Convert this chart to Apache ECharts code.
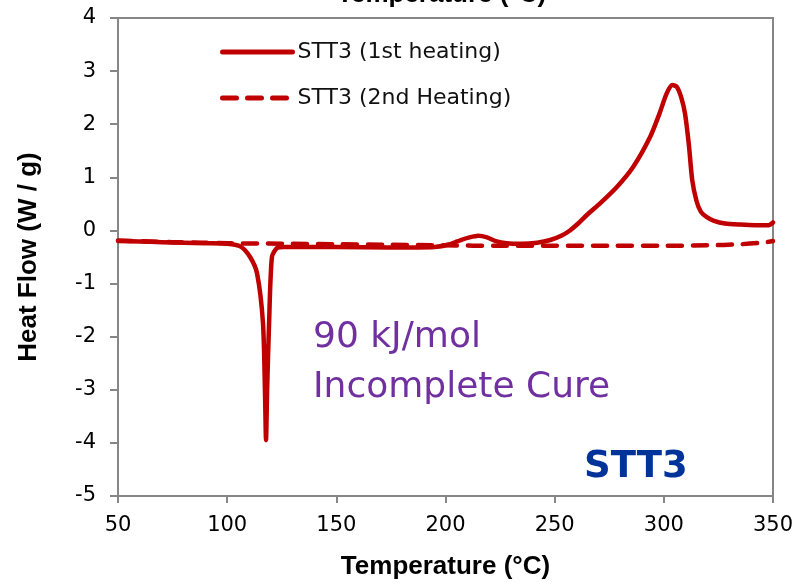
<!DOCTYPE html>
<html>
<head>
<meta charset="utf-8">
<script src="https://cdn.jsdelivr.net/npm/echarts@6/dist/echarts.min.js"></script>
<style>
    html, body { margin: 0; padding: 0; background: #fff; }
    #main { width: 799px; height: 582px; }
</style>
</head>
<body>
<div id="main"></div>
<script>
// 第一次升温 (1st heating)
var temp1 = [50, 60, 70, 80, 90, 100, 106, 110.5, 113.7, 116.4, 117.3, 117.8, 118.3, 119.2, 120.5, 122.8, 126, 135, 150, 175, 195, 202, 207, 211, 215, 219, 223, 228, 235, 242, 248, 253, 257, 261, 265, 270, 278.5, 286, 293.7, 298, 301.4, 304, 306, 308, 309.7, 311.5, 313, 315, 317, 319.7, 323, 328, 335, 342, 348, 350];
var heat1 = [-0.2, -0.21, -0.22, -0.23, -0.24, -0.25, -0.3, -0.5, -0.81, -1.74, -3.0, -3.95, -3.0, -1.74, -0.5, -0.33, -0.31, -0.31, -0.31, -0.32, -0.31, -0.26, -0.18, -0.13, -0.1, -0.13, -0.2, -0.24, -0.25, -0.23, -0.18, -0.1, 0.0, 0.14, 0.3, 0.48, 0.82, 1.2, 1.76, 2.2, 2.59, 2.74, 2.7, 2.5, 2.2, 1.6, 0.95, 0.55, 0.35, 0.25, 0.18, 0.13, 0.11, 0.1, 0.1, 0.15];
// 第二次升温 (2nd heating)
var temp2 = [50, 75, 100, 125, 150, 175, 200, 225, 250, 275, 300, 320, 335, 345, 350];
var heat2 = [-0.19, -0.22, -0.24, -0.25, -0.26, -0.27, -0.28, -0.29, -0.29, -0.29, -0.29, -0.28, -0.26, -0.23, -0.2];
var xTicks = [50, 100, 150, 200, 250, 300, 350];
var yTicks = [-5, -4, -3, -2, -1, 0, 1, 2, 3, 4];

function pairs(xs, ys) {
    var arr = [];
    for (var i = 0; i < xs.length; i++) arr.push([xs[i], ys[i]]);
    return arr;
}

var myChart = echarts.init(document.getElementById('main'));
var font = 'Liberation Sans, Arial, sans-serif';
var wide = 'DejaVu Sans, sans-serif';
var option = {
    animation: false,
    grid: {
        left: 118, right: 26, top: 18, bottom: 86,
        outerBoundsMode: 'none',
        show: true,
        borderColor: '#868686',
        borderWidth: 2
    },
    legend: {
        orient: 'vertical',
        left: 215,
        top: 36,
        itemWidth: 70,
        itemHeight: 14,
        itemGap: 24,
        lineStyle: { width: 5 },
        itemStyle: { color: 'transparent', borderWidth: 0, opacity: 0 },
        textStyle: { fontFamily: wide, fontSize: 22, color: '#111' },
        data: ['STT3 (1st heating)', 'STT3 (2nd Heating)']
    },
    xAxis: {
        type: 'value',
        min: xTicks[0],
        max: xTicks[xTicks.length - 1],
        interval: 50,
        name: 'Temperature (°C)',
        nameLocation: 'middle',
        nameGap: 58,
        nameTextStyle: { fontFamily: font, fontSize: 26, fontWeight: 'bold', color: '#000' },
        axisLine: { onZero: false, lineStyle: { color: '#868686', width: 2 } },
        axisTick: { show: true, length: 7, lineStyle: { color: '#868686', width: 2 } },
        axisLabel: { fontFamily: wide, fontSize: 21, color: '#000', margin: 19 },
        splitLine: { show: false }
    },
    yAxis: {
        type: 'value',
        min: yTicks[0],
        max: yTicks[yTicks.length - 1],
        interval: 1,
        name: 'Heat Flow (W / g)',
        nameLocation: 'middle',
        nameGap: 76,
        nameTextStyle: { fontFamily: font, fontSize: 26, fontWeight: 'bold', color: '#000' },
        axisLine: { onZero: false, lineStyle: { color: '#868686', width: 2 } },
        axisTick: { show: true, length: 8, lineStyle: { color: '#868686', width: 2 } },
        axisLabel: { fontFamily: wide, fontSize: 21, color: '#000', margin: 22 },
        splitLine: { show: false }
    },
    graphic: [
        // 顶部被截掉的标题
        { type: 'text', left: 337, top: -18, style: { text: 'Temperature (°C)', fontFamily: font, fontSize: 26, fontWeight: 'bold', fill: '#000' } },
        { type: 'text', left: 313, top: 320, style: { text: '90 kJ/mol', fontFamily: wide, fontSize: 36, fill: '#7030A0' } },
        { type: 'text', left: 313, top: 370, style: { text: 'Incomplete Cure', fontFamily: wide, fontSize: 36, fill: '#7030A0' } },
        { type: 'text', left: 584, top: 449, style: { text: 'STT3', fontFamily: wide, fontSize: 37, fontWeight: 'bold', fill: '#003399' } }
    ],
    series: [
        {
            name: 'STT3 (1st heating)',
            type: 'line',
            symbol: 'none',
            smooth: 0.25,
            itemStyle: { color: '#C00000' },
            lineStyle: { color: '#C00000', width: 4.5, cap: 'round' },
            data: pairs(temp1, heat1)
        },
        {
            name: 'STT3 (2nd Heating)',
            type: 'line',
            symbol: 'none',
            smooth: 0.3,
            itemStyle: { color: '#C00000' },
            lineStyle: { color: '#C00000', width: 4.5, type: [14, 11], cap: 'round' },
            data: pairs(temp2, heat2)
        }
    ]
};
myChart.setOption(option);
</script>
</body>
</html>
